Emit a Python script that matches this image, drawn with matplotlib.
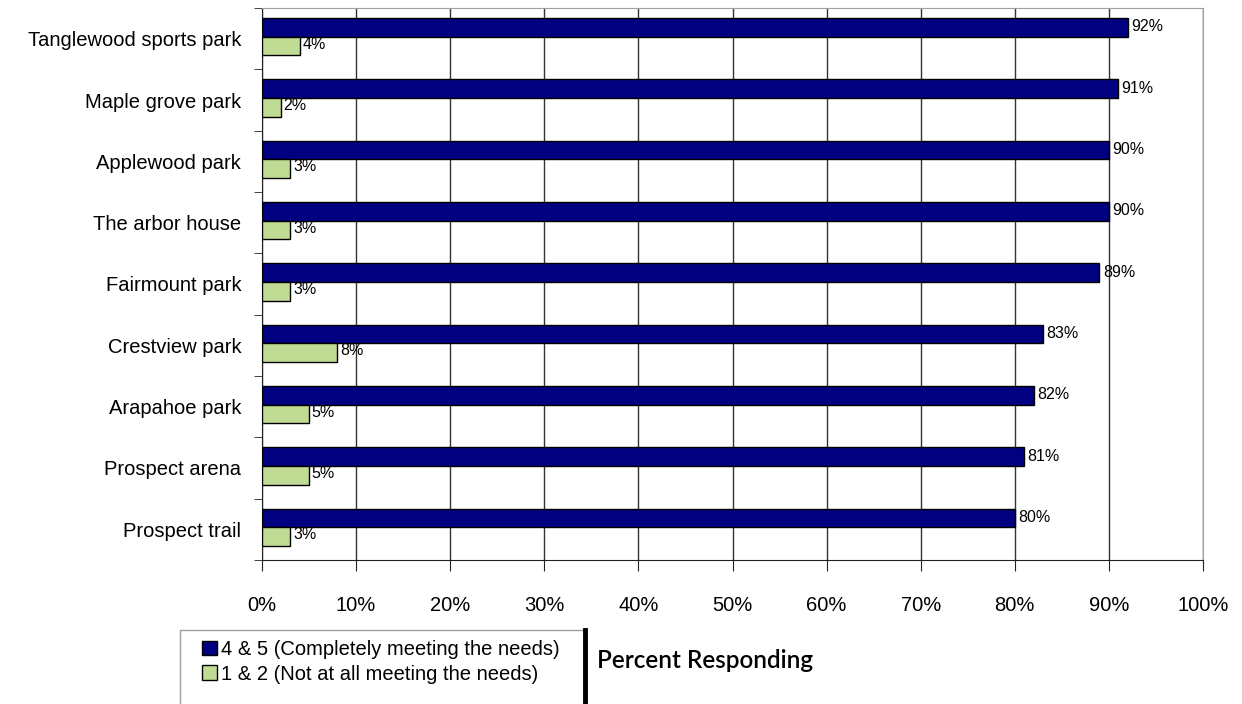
import numpy as np
import matplotlib.pyplot as plt
from matplotlib.lines import Line2D
from matplotlib.patches import Rectangle

plt.rcParams['font.family'] = ['Liberation Sans', 'DejaVu Sans']

parks = ["Tanglewood sports park", "Maple grove park", "Applewood park",
         "The arbor house", "Fairmount park", "Crestview park",
         "Arapahoe park", "Prospect arena", "Prospect trail"]
meeting = [92, 91, 90, 90, 89, 83, 82, 81, 80]
not_meeting = [4, 2, 3, 3, 3, 8, 5, 5, 3]
series_labels = ["4 & 5 (Completely meeting the needs)",
                 "1 & 2 (Not at all meeting the needs)"]
xticks = np.arange(0, 101, 10)

navy = "#000080"
green = "#C0DC94"

W, H = 1242, 704
fig = plt.figure(figsize=(W / 100, H / 100), dpi=100)
ax = fig.add_axes([262 / W, 1 - 560 / H, 941 / W, 552 / H])

y = np.arange(len(parks))
h = 0.305
y_dark = y - 0.5 + 0.163 + h / 2
y_light = y_dark + h
ax.barh(y_dark, meeting, height=h, color=navy, edgecolor="black",
        linewidth=1, label=series_labels[0], zorder=3)
ax.barh(y_light, not_meeting, height=h, color=green, edgecolor="black",
        linewidth=1, label=series_labels[1], zorder=3)

for v, yy in zip(meeting, y_dark):
    ax.text(v + 0.35, yy - 0.01, f"{v}%", fontsize=11.5, va="center",
            ha="left", zorder=4)
for v, yy in zip(not_meeting, y_light):
    ax.text(v + 0.3, yy - 0.03, f"{v}%", fontsize=11.5, va="center",
            ha="left", zorder=4)

ax.set_xlim(0, 100)
ax.set_ylim(len(parks) - 0.5, -0.5)
ax.set_xticks(xticks)
ax.set_xticklabels([f"{t}%" for t in xticks], fontsize=14.5)
ax.tick_params(axis="x", direction="out", length=8, pad=18, color="#222222")

ax.set_yticks(y)
ax.set_yticklabels(parks, fontsize=14.5)
ax.tick_params(axis="y", which="major", length=0, pad=15)
ax.set_yticks(np.arange(-0.5, len(parks), 1), minor=True)
ax.tick_params(axis="y", which="minor", direction="out", length=6, color="#222222")

ax.grid(axis="x", color="#333333", linewidth=1, zorder=0)
for side in ["top", "right"]:
    ax.spines[side].set_color("#a0a0a0")
for side in ["left", "bottom"]:
    ax.spines[side].set_color("#222222")

# legend box with the dark edge on its right side
fig.add_artist(Rectangle((180 / W, -0.05), 405 / W, 1 - 630 / H + 0.05,
                         transform=fig.transFigure, facecolor="white",
                         edgecolor="#a0a0a0", linewidth=1))
fig.add_artist(Line2D([585 / W, 585 / W], [0, 1 - 630 / H],
                      color="black", linewidth=3.5, transform=fig.transFigure))
leg = fig.legend(loc="upper left", bbox_to_anchor=(202 / W, 1 - 640 / H),
                 frameon=False, fontsize=14.5, borderaxespad=0, borderpad=0,
                 handlelength=0.75, handleheight=0.75, handletextpad=0.2,
                 labelspacing=0.28)

fig.text(597 / W, 1 - 661 / H, "Percent Responding", fontsize=17.5,
         fontweight="semibold", family=["Lato", "DejaVu Sans"], va="center")

fig.savefig("out.png", dpi=100)
